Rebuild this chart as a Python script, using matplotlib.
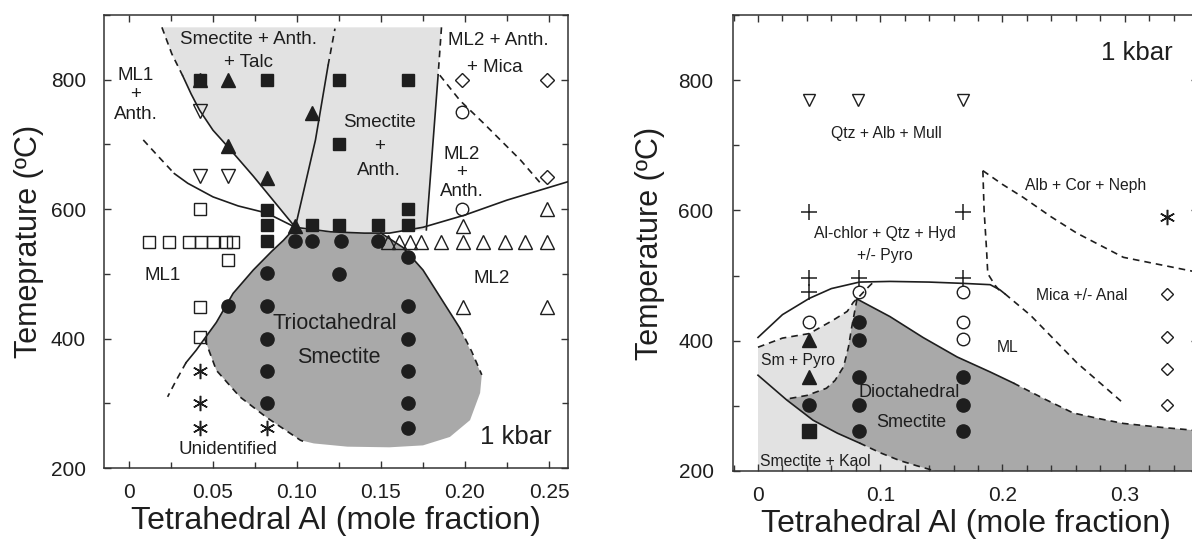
import matplotlib
matplotlib.use('Agg')
import matplotlib.pyplot as plt
from matplotlib.ticker import MultipleLocator, FixedLocator
import numpy as np

plt.rcParams['font.family'] = ['Liberation Sans', 'DejaVu Sans']

##############################################################################
# Left panel (trioctahedral)
# phase fields
light_left_x = [0.0196, 0.186, 0.184, 0.177, 0.15, 0.12, 0.099, 0.074, 0.059,
                0.050, 0.042, 0.037, 0.032, 0.0255, 0.0196]
light_left_T = [881, 881, 807, 568, 563, 565, 572, 651, 696, 722, 753, 778,
                806, 840, 881]
dark_left_x = [0.099, 0.12, 0.15, 0.163, 0.175, 0.197, 0.21, 0.209, 0.203,
               0.191, 0.175, 0.155, 0.13, 0.11, 0.102, 0.082, 0.066, 0.052,
               0.045, 0.052, 0.062, 0.074, 0.085, 0.092, 0.099]
dark_left_T = [570, 564, 562, 541, 506, 416, 344, 316, 274, 248, 235, 232,
               233, 238, 243, 278, 310, 351, 400, 425, 470, 506, 535, 552, 570]

# boundaries (solid / dashed)
l_upper_dash_x = [0.0196, 0.0255, 0.032]
l_upper_dash_T = [881, 840, 806]
l_upper_x = [0.032, 0.037, 0.042, 0.050, 0.059, 0.074, 0.099]
l_upper_T = [806, 778, 753, 722, 696, 651, 572]
l_lower_dash_x = [0.0085, 0.018, 0.027]
l_lower_dash_T = [707, 680, 655]
l_lower_x = [0.027, 0.035, 0.050, 0.065, 0.082, 0.099]
l_lower_T = [655, 640, 619, 605, 594, 572]
l_vert_x = [0.099, 0.111, 0.1185]
l_vert_T = [572, 707, 822]
l_vert_dash_x = [0.1185, 0.1226]
l_vert_dash_T = [822, 879]
l_right_dash_x = [0.186, 0.184]
l_right_dash_T = [881, 807]
l_right_x = [0.184, 0.177]
l_right_T = [807, 568]
l_ml2_dash_x = [0.185, 0.197, 0.211, 0.233, 0.246]
l_ml2_dash_T = [807, 768, 733, 676, 637]
l_horiz_x = [0.099, 0.12, 0.14, 0.155, 0.175, 0.2, 0.225, 0.262]
l_horiz_T = [572, 565, 563, 563, 572, 591, 614, 643]
l_dark_r_x = [0.15, 0.163, 0.175, 0.197]
l_dark_r_T = [563, 541, 506, 416]
l_dark_r_dash_x = [0.197, 0.204, 0.21]
l_dark_r_dash_T = [416, 380, 344]
l_dark_l_x = [0.099, 0.092, 0.085, 0.074, 0.062, 0.052, 0.045, 0.040, 0.034]
l_dark_l_T = [572, 552, 535, 506, 470, 425, 400, 382, 363]
l_dark_l_dash_x = [0.034, 0.028, 0.023]
l_dark_l_dash_T = [363, 335, 310]
l_dark_b_dash_x = [0.045, 0.052, 0.066, 0.082, 0.102, 0.106]
l_dark_b_dash_T = [400, 351, 310, 278, 243, 239]

# experiments
open_sq_x = [0.012, 0.024, 0.036, 0.043, 0.050, 0.058, 0.062, 0.042, 0.059,
             0.042, 0.042]
open_sq_T = [550, 550, 550, 550, 550, 550, 550, 600, 521, 449, 402]
filled_sq_x = [0.042, 0.082, 0.125, 0.166, 0.125, 0.082, 0.082, 0.082, 0.109,
               0.125, 0.148, 0.166, 0.166]
filled_sq_T = [800, 800, 800, 800, 700, 598, 575, 551, 575, 575, 575, 575,
               600]
filled_tri_x = [0.042, 0.059, 0.059, 0.082, 0.109, 0.099]
filled_tri_T = [800, 800, 698, 648, 748, 574]
open_tri_dn_x = [0.042, 0.042, 0.059]
open_tri_dn_T = [752, 651, 651]
open_circ_x = [0.198, 0.198]
open_circ_T = [750, 600]
open_diam_x = [0.198, 0.249, 0.249]
open_diam_T = [800, 800, 650]
open_tri_up_x = [0.154, 0.161, 0.167, 0.174, 0.186, 0.199, 0.211, 0.224,
                 0.236, 0.249, 0.199, 0.249, 0.199, 0.249]
open_tri_up_T = [550, 550, 550, 550, 550, 550, 550, 550, 550, 550, 574, 600,
                 449, 449]
filled_circ_x = [0.099, 0.109, 0.126, 0.148, 0.082, 0.082, 0.082, 0.082,
                 0.082, 0.059, 0.125, 0.166, 0.166, 0.166, 0.166, 0.166, 0.166]
filled_circ_T = [551, 551, 551, 551, 501, 450, 399, 350, 300, 450, 500, 526,
                 450, 400, 350, 300, 262]
aster_x = [0.042, 0.042, 0.042, 0.082]
aster_T = [350, 300, 262, 262]

##############################################################################
# Right panel (dioctahedral)
light_right_x = [0, 0, 0.02, 0.042, 0.061, 0.073, 0.078, 0.081, 0.145]
light_right_T = [200, 390, 404, 411, 431, 445, 459, 464, 200]
r_line1_x = [0, 0.02, 0.042, 0.06, 0.083, 0.108, 0.14, 0.168, 0.19, 0.198,
             0.202]
r_line1_T = [405, 440, 465, 480, 490, 491, 490, 488, 486, 478, 472]
r_line2_x = [0.202, 0.223, 0.261, 0.299]
r_line2_T = [472, 439, 366, 304]
r_line3_x = [0.184, 0.185, 0.187, 0.188, 0.194, 0.2]
r_line3_T = [661, 600, 540, 503, 485, 472]
r_line4_x = [0.184, 0.2, 0.217, 0.24, 0.261, 0.299, 0.36]
r_line4_T = [661, 640, 620, 590, 565, 528, 505]
r_line5_x = [0, 0.02, 0.042, 0.061, 0.073, 0.078, 0.084, 0.089, 0.095]
r_line5_T = [390, 404, 411, 431, 445, 459, 470, 480, 491]
r_line6_x = [0.081, 0.0767, 0.074, 0.070, 0.063, 0.056, 0.040, 0.022]
r_line6_T = [464, 421, 390, 360, 339, 327, 316, 310]
r_line7_x = [0, 0.0235, 0.045, 0.065, 0.083]
r_line7_T = [347, 309, 278, 258, 243]
r_line7_dash_x = [0.083, 0.1, 0.116, 0.13, 0.145]
r_line7_dash_T = [243, 228, 216, 208, 200]
r_line8_x = [0.081, 0.095, 0.108, 0.135, 0.163, 0.19, 0.209]
r_line8_T = [464, 450, 437, 405, 375, 352, 335]
r_line8_dash_x = [0.209, 0.235, 0.258, 0.28, 0.299, 0.33, 0.36]
r_line8_dash_T = [335, 310, 289, 280, 273, 267, 262]

r_open_tri_dn_x = [0.042, 0.082, 0.168]
r_open_tri_dn_T = [769, 769, 769]
r_plus_x = [0.042, 0.168, 0.042, 0.042, 0.083, 0.168]
r_plus_T = [597, 597, 497, 474, 497, 497]
r_open_circ_x = [0.042, 0.083, 0.168, 0.168, 0.168]
r_open_circ_T = [428, 474, 474, 428, 402]
r_filled_tri_x = [0.042, 0.042]
r_filled_tri_T = [401, 345]
r_filled_circ_x = [0.083, 0.083, 0.083, 0.083, 0.083, 0.042, 0.168, 0.168,
                   0.168]
r_filled_circ_T = [428, 401, 345, 301, 261, 301, 345, 301, 261]
r_filled_sq_x = [0.042]
r_filled_sq_T = [261]
r_aster_x = [0.335]
r_aster_T = [590]
r_open_diam_x = [0.335, 0.335, 0.335, 0.335]
r_open_diam_T = [472, 405, 356, 301]

LIGHT = '#e2e2e2'
DARK = '#a9a9a9'
INK = '#1e1e1e'
LW = 1.2


def solid(ax, x, y):
    ax.plot(x, y, color=INK, lw=LW, zorder=3)


def dashed(ax, x, y):
    ax.plot(x, y, color=INK, lw=LW, ls=(0, (4, 3)), zorder=3)


def style_axes(ax):
    for sp in ax.spines.values():
        sp.set_color('#333333')
        sp.set_linewidth(1.1)
    ax.tick_params(which='both', direction='in', top=True, right=True,
                   width=1.0, colors='#333333', labelcolor=INK,
                   labelsize=15)
    ax.tick_params(which='major', length=5)
    ax.tick_params(which='minor', length=4)
    ax.yaxis.set_major_locator(FixedLocator([200, 400, 600, 800]))
    ax.yaxis.set_minor_locator(MultipleLocator(100))
    ax.set_ylim(200, 900)


fig = plt.figure(figsize=(11.92, 5.41), dpi=100)

# ---------------------------------------------------------------- left
ax = fig.add_axes([0.0872, 0.1349, 0.3893, 0.8373])
ax.fill(light_left_x, light_left_T, color=LIGHT, lw=0, zorder=1)
ax.fill(dark_left_x, dark_left_T, color=DARK, lw=0, zorder=1)

dashed(ax, l_upper_dash_x, l_upper_dash_T)
solid(ax, l_upper_x, l_upper_T)
dashed(ax, l_lower_dash_x, l_lower_dash_T)
solid(ax, l_lower_x, l_lower_T)
solid(ax, l_vert_x, l_vert_T)
dashed(ax, l_vert_dash_x, l_vert_dash_T)
dashed(ax, l_right_dash_x, l_right_dash_T)
solid(ax, l_right_x, l_right_T)
dashed(ax, l_ml2_dash_x, l_ml2_dash_T)
solid(ax, l_horiz_x, l_horiz_T)
solid(ax, l_dark_r_x, l_dark_r_T)
dashed(ax, l_dark_r_dash_x, l_dark_r_dash_T)
solid(ax, l_dark_l_x, l_dark_l_T)
dashed(ax, l_dark_l_dash_x, l_dark_l_dash_T)
dashed(ax, l_dark_b_dash_x, l_dark_b_dash_T)

mk = dict(ls='none', zorder=4, mec=INK)
ax.plot(open_sq_x, open_sq_T, marker='s', ms=9, mfc='none', mew=1.0, **mk)
ax.plot(filled_sq_x, filled_sq_T, marker='s', ms=9, mfc=INK, **mk)
ax.plot(filled_tri_x, filled_tri_T, marker='^', ms=10, mfc=INK, **mk)
ax.plot(open_tri_dn_x, open_tri_dn_T, marker='v', ms=10, mfc='none',
        mew=1.0, **mk)
ax.plot(open_circ_x, open_circ_T, marker='o', ms=9, mfc='none', mew=1.0, **mk)
ax.plot(open_diam_x, open_diam_T, marker='D', ms=7, mfc='none', mew=1.0, **mk)
ax.plot(open_tri_up_x, open_tri_up_T, marker='^', ms=10, mfc='none',
        mew=1.0, **mk)
ax.plot(filled_circ_x, filled_circ_T, marker='o', ms=9.5, mfc=INK, **mk)
ax.plot(aster_x, aster_T, marker=(6, 2, 0), ms=11, mew=1.1, **mk)

tx = dict(ha='center', va='center', color=INK, fontsize=13.5, zorder=5)
ax.text(0.0714, 862, 'Smectite + Anth.', **tx)
ax.text(0.0714, 827, '+ Talc', **tx)
ax.text(0.004, 777, 'ML1\n+\nAnth.', linespacing=1.2, **tx)
ax.text(0.149, 697, 'Smectite\n+\nAnth.', linespacing=1.55, **tx)
ax.text(0.220, 861, 'ML2 + Anth.', **tx)
ax.text(0.218, 819, '+ Mica', **tx)
ax.text(0.198, 656, 'ML2\n+\nAnth.', linespacing=1.1, **tx)
ax.text(0.0202, 498, 'ML1', **tx)
ax.text(0.216, 493, 'ML2', **tx)
ax.text(0.1226, 424, 'Trioctahedral', **{**tx, 'fontsize': 15.5})
ax.text(0.125, 371, 'Smectite', **{**tx, 'fontsize': 15.5})
ax.text(0.2304, 248, '1 kbar', **{**tx, 'fontsize': 18.5})
ax.text(0.0589, 228, 'Unidentified', **tx)

style_axes(ax)
ax.set_xlim(-0.0149, 0.2613)
ax.xaxis.set_major_locator(FixedLocator([0, 0.05, 0.10, 0.15, 0.20, 0.25]))
ax.set_xticklabels(['0', '0.05', '0.10', '0.15', '0.20', '0.25'])
ax.xaxis.set_minor_locator(MultipleLocator(0.025))
ax.tick_params(axis='y', pad=13)
ax.tick_params(axis='x', pad=11)
ax.set_xlabel('Tetrahedral Al (mole fraction)', fontsize=23, color=INK,
              labelpad=3)
ax.set_ylabel('Temeprature (ºC)', fontsize=22, color=INK, labelpad=5)

# ---------------------------------------------------------------- right
ax2 = fig.add_axes([0.6149, 0.1294, 0.3901, 0.8429])
ax2.fill(light_right_x, light_right_T, color=LIGHT, lw=0, zorder=1)
dark_rx = (r_line6_x[::-1] + r_line8_x + r_line8_dash_x + [0.36]
           + r_line7_dash_x[::-1] + r_line7_x[::-1][1:-1])
dark_rT = (r_line6_T[::-1] + r_line8_T + r_line8_dash_T + [200]
           + r_line7_dash_T[::-1] + r_line7_T[::-1][1:-1])
ax2.fill(dark_rx, dark_rT, color=DARK, lw=0, zorder=1)

solid(ax2, r_line1_x, r_line1_T)
dashed(ax2, r_line2_x, r_line2_T)
dashed(ax2, r_line3_x, r_line3_T)
dashed(ax2, r_line4_x, r_line4_T)
dashed(ax2, r_line5_x, r_line5_T)
dashed(ax2, r_line6_x, r_line6_T)
solid(ax2, r_line7_x, r_line7_T)
dashed(ax2, r_line7_dash_x, r_line7_dash_T)
solid(ax2, r_line8_x, r_line8_T)
dashed(ax2, r_line8_dash_x, r_line8_dash_T)

ax2.plot(r_open_tri_dn_x, r_open_tri_dn_T, marker='v', ms=8.5, mfc='none',
         mew=1.0, **mk)
ax2.plot(r_plus_x, r_plus_T, marker='+', ms=11, mew=1.1, **mk)
ax2.plot(r_open_circ_x, r_open_circ_T, marker='o', ms=9, mfc='none', mew=1.0,
         **mk)
ax2.plot(r_filled_tri_x, r_filled_tri_T, marker='^', ms=10, mfc=INK, **mk)
ax2.plot(r_filled_circ_x, r_filled_circ_T, marker='o', ms=9.5, mfc=INK, **mk)
ax2.plot(r_filled_sq_x, r_filled_sq_T, marker='s', ms=9.5, mfc=INK, **mk)
ax2.plot(r_aster_x, r_aster_T, marker=(6, 2, 0), ms=11, mew=1.1, **mk)
ax2.plot(r_open_diam_x, r_open_diam_T, marker='D', ms=6.5, mfc='none',
         mew=1.0, **mk)

tr = dict(ha='center', va='center', color=INK, fontsize=11.3, zorder=5)
ax2.text(0.310, 842, '1 kbar', **{**tr, 'fontsize': 18.5})
ax2.text(0.1047, 718, 'Qtz + Alb + Mull', **tr)
ax2.text(0.268, 638, 'Alb + Cor + Neph', **tr)
ax2.text(0.104, 565, 'Al-chlor + Qtz + Hyd', **tr)
ax2.text(0.104, 531, '+/- Pyro', **tr)
ax2.text(0.265, 470, 'Mica +/- Anal', **tr)
ax2.text(0.204, 390, 'ML', **tr)
ax2.text(0.0327, 370, 'Sm + Pyro', **tr)
ax2.text(0.124, 321, 'Dioctahedral', **{**tr, 'fontsize': 13})
ax2.text(0.125, 274, 'Smectite', **{**tr, 'fontsize': 13})
ax2.text(0.0466, 214, 'Smectite + Kaol', **tr)

style_axes(ax2)
ax2.set_xlim(-0.0205, 0.36)
ax2.xaxis.set_major_locator(FixedLocator([0, 0.1, 0.2, 0.3]))
ax2.set_xticklabels(['0', '0.1', '0.2', '0.3'])
ax2.xaxis.set_minor_locator(MultipleLocator(0.02))
ax2.tick_params(axis='y', pad=14)
ax2.tick_params(axis='x', pad=11)
ax2.set_xlabel('Tetrahedral Al (mole fraction)', fontsize=23, color=INK,
               labelpad=3)
ax2.set_ylabel('Temperature (ºC)', fontsize=22, color=INK, labelpad=10)

plt.savefig('out.png', dpi=100)
plt.close()
